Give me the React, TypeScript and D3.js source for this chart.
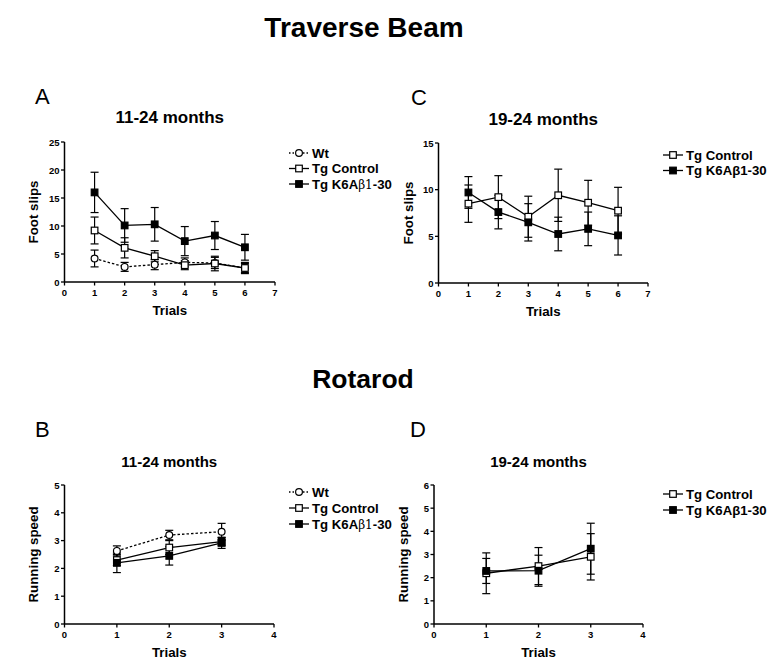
import React from 'react';
import * as d3 from 'd3';

// ---------- data ----------
const trialsBeam = [1, 2, 3, 4, 5, 6];
const trialsRota = [1, 2, 3];

// A: Traverse beam 11-24 months
const beamA_wt = [4.2, 2.7, 3.1, 3.5, 3.4, 2.5];
const beamA_wtErr = [1.5, 0.8, 0.9, 0.8, 1.0, 0.8];
const beamA_ctrl = [9.2, 6.1, 4.6, 3.0, 3.3, 2.5];
const beamA_ctrlErr = [2.4, 1.8, 1.0, 0.8, 1.3, 1.0];
const beamA_k6a = [16.0, 10.1, 10.3, 7.3, 8.3, 6.2];
const beamA_k6aErr = [3.6, 3.0, 3.0, 2.6, 2.5, 2.3];

// C: Traverse beam 19-24 months
const beamC_ctrl = [8.5, 9.2, 7.1, 9.4, 8.6, 7.75];
const beamC_ctrlErr = [2.0, 2.3, 2.2, 2.8, 2.4, 2.5];
const beamC_k6a = [9.7, 7.6, 6.5, 5.25, 5.8, 5.1];
const beamC_k6aErr = [1.7, 1.8, 2.0, 1.8, 1.8, 2.1];

// B: Rotarod 11-24 months
const rotaB_wt = [2.63, 3.2, 3.32];
const rotaB_wtErr = [0.18, 0.17, 0.3];
const rotaB_ctrl = [2.3, 2.75, 2.96];
const rotaB_ctrlErr = [0.2, 0.25, 0.15];
const rotaB_k6a = [2.2, 2.45, 2.92];
const rotaB_k6aErr = [0.35, 0.33, 0.2];

// D: Rotarod 19-24 months
const rotaD_ctrl = [2.19, 2.5, 2.9];
const rotaD_ctrlErr = [0.88, 0.8, 1.0];
const rotaD_k6a = [2.29, 2.3, 3.25];
const rotaD_k6aErr = [0.54, 0.67, 1.1];

const legendNames3 = ['Wt', 'Tg Control', 'Tg K6Aβ1-30'];
const legendNames2 = ['Tg Control', 'Tg K6Aβ1-30'];

const FONT = '"Liberation Sans", Arial, Helvetica, sans-serif';

type Marker = 'circle' | 'open' | 'filled';
type Series = { x: number[]; y: number[]; err: number[]; marker: Marker; dashed?: boolean };

function MarkerShape({ cx, cy, marker }: { cx: number; cy: number; marker: Marker }) {
  if (marker === 'circle') {
    return <circle cx={cx} cy={cy} r={3.4} fill="#fff" stroke="#000" strokeWidth={1.2} />;
  }
  const s = 6.6;
  return (
    <rect
      x={cx - s / 2}
      y={cy - s / 2}
      width={s}
      height={s}
      fill={marker === 'filled' ? '#000' : '#fff'}
      stroke="#000"
      strokeWidth={1.2}
    />
  );
}

type PanelProps = {
  x0: number; x1: number; yTop: number; yBot: number;
  xMax: number; yMax: number; yStep: number;
  series: Series[];
  ylabel: string; ylabelX: number;
  title: string; titleY: number; titleSize: number;
  xlabelY: number;
};

function Panel(p: PanelProps) {
  const x = d3.scaleLinear().domain([0, p.xMax]).range([p.x0, p.x1]);
  const y = d3.scaleLinear().domain([0, p.yMax]).range([p.yBot, p.yTop]);
  const xt = d3.range(0, p.xMax + 1);
  const yt = d3.range(0, p.yMax + 0.001, p.yStep);
  const line = d3
    .line<[number, number]>()
    .x((d) => x(d[0]))
    .y((d) => y(d[1]));
  const cx = (p.x0 + p.x1) / 2;
  const cy = (p.yTop + p.yBot) / 2;
  return (
    <g>
      <text x={cx} y={p.titleY} textAnchor="middle" fontWeight="bold" fontSize={p.titleSize}>
        {p.title}
      </text>
      {/* axes */}
      <line x1={p.x0} x2={p.x0} y1={p.yTop} y2={p.yBot} stroke="#000" strokeWidth={1.5} />
      <line x1={p.x0} x2={p.x1} y1={p.yBot} y2={p.yBot} stroke="#000" strokeWidth={1.5} />
      {yt.map((v) => (
        <g key={'y' + v}>
          <line x1={p.x0 - 3.5} x2={p.x0} y1={y(v)} y2={y(v)} stroke="#000" strokeWidth={1.3} />
          <text x={p.x0 - 5} y={y(v) + 3.5} textAnchor="end" fontSize={9.5} fontWeight="bold">
            {v}
          </text>
        </g>
      ))}
      {xt.map((v) => (
        <g key={'x' + v}>
          <line x1={x(v)} x2={x(v)} y1={p.yBot} y2={p.yBot + 3.5} stroke="#000" strokeWidth={1.3} />
          <text x={x(v)} y={p.yBot + 14} textAnchor="middle" fontSize={9.5} fontWeight="bold">
            {v}
          </text>
        </g>
      ))}
      <text
        transform={`translate(${p.ylabelX},${cy}) rotate(-90)`}
        textAnchor="middle"
        fontSize={13.3}
        fontWeight="bold"
      >
        {p.ylabel}
      </text>
      <text x={cx} y={p.xlabelY} textAnchor="middle" fontSize={13.3} fontWeight="bold">
        Trials
      </text>
      {/* series */}
      {p.series.map((s, i) => {
        const pts = s.x.map((xv, j) => [xv, s.y[j]] as [number, number]);
        return (
          <g key={'s' + i}>
            <path
              d={line(pts) || ''}
              fill="none"
              stroke="#000"
              strokeWidth={1.3}
              strokeDasharray={s.dashed ? '2.5,2' : undefined}
            />
            {pts.map((d, j) => {
              const e = s.err[j];
              const px = x(d[0]);
              return (
                <g key={'e' + j}>
                  <line x1={px} x2={px} y1={y(d[1] - e)} y2={y(d[1] + e)} stroke="#000" strokeWidth={1.2} />
                  <line x1={px - 4} x2={px + 4} y1={y(d[1] + e)} y2={y(d[1] + e)} stroke="#000" strokeWidth={1.2} />
                  <line x1={px - 4} x2={px + 4} y1={y(d[1] - e)} y2={y(d[1] - e)} stroke="#000" strokeWidth={1.2} />
                </g>
              );
            })}
          </g>
        );
      })}
      {p.series.map((s, i) =>
        s.x.map((xv, j) => <MarkerShape key={'m' + i + '-' + j} cx={x(xv)} cy={y(s.y[j])} marker={s.marker} />)
      )}
    </g>
  );
}

function LegendLabel({ name, symbolFont }: { name: string; symbolFont: boolean }) {
  const idx = name.indexOf('β1');
  if (idx < 0 || !symbolFont) return <>{name}</>;
  return (
    <>
      {name.slice(0, idx)}
      <tspan fontFamily='"DejaVu Serif", serif' fontWeight="normal" fontSize={12}>
        β1
      </tspan>
      {name.slice(idx + 2)}
    </>
  );
}

function Legend({
  x0, y0, names, markers, dashed, gap, symbolFont,
}: {
  x0: number; y0: number; names: string[]; markers: Marker[]; dashed: boolean[]; gap: number; symbolFont: boolean;
}) {
  return (
    <g>
      {names.map((n, i) => {
        const yy = y0 + i * gap;
        return (
          <g key={n}>
            <line
              x1={x0}
              x2={x0 + 20}
              y1={yy}
              y2={yy}
              stroke="#000"
              strokeWidth={1.3}
              strokeDasharray={dashed[i] ? '1.5,2' : undefined}
            />
            <MarkerShape cx={x0 + 10} cy={yy} marker={markers[i]} />
            <text x={x0 + 23} y={yy + 4.6} fontSize={13.2} fontWeight="bold">
              <LegendLabel name={n} symbolFont={symbolFont} />
            </text>
          </g>
        );
      })}
    </g>
  );
}

export default function App() {
  const seriesA: Series[] = [
    { x: trialsBeam, y: beamA_wt, err: beamA_wtErr, marker: 'circle', dashed: true },
    { x: trialsBeam, y: beamA_ctrl, err: beamA_ctrlErr, marker: 'open' },
    { x: trialsBeam, y: beamA_k6a, err: beamA_k6aErr, marker: 'filled' },
  ];
  const seriesC: Series[] = [
    { x: trialsBeam, y: beamC_ctrl, err: beamC_ctrlErr, marker: 'open' },
    { x: trialsBeam, y: beamC_k6a, err: beamC_k6aErr, marker: 'filled' },
  ];
  const seriesB: Series[] = [
    { x: trialsRota, y: rotaB_wt, err: rotaB_wtErr, marker: 'circle', dashed: true },
    { x: trialsRota, y: rotaB_ctrl, err: rotaB_ctrlErr, marker: 'open' },
    { x: trialsRota, y: rotaB_k6a, err: rotaB_k6aErr, marker: 'filled' },
  ];
  const seriesD: Series[] = [
    { x: trialsRota, y: rotaD_ctrl, err: rotaD_ctrlErr, marker: 'open' },
    { x: trialsRota, y: rotaD_k6a, err: rotaD_k6aErr, marker: 'filled' },
  ];
  return (
    <svg
      width={775}
      height={671}
      style={{ position: 'absolute', left: 0, top: 0, background: '#fff' }}
      fontFamily={FONT}
    >
      <rect x={0} y={0} width={775} height={671} fill="#fff" />
      <text x={364} y={37} textAnchor="middle" fontWeight="bold" fontSize={28}>
        Traverse Beam
      </text>
      <text x={363} y={388} textAnchor="middle" fontWeight="bold" fontSize={26.5}>
        Rotarod
      </text>
      <text x={35} y={104} fontSize={22}>A</text>
      <text x={411} y={105} fontSize={22}>C</text>
      <text x={35} y={437} fontSize={22}>B</text>
      <text x={410} y={437} fontSize={22}>D</text>

      <Panel
        x0={64.5} x1={275} yTop={142} yBot={282} xMax={7} yMax={25} yStep={5}
        series={seriesA} ylabel="Foot slips" ylabelX={38}
        title="11-24 months" titleY={123} titleSize={17} xlabelY={315}
      />
      <Panel
        x0={438.5} x1={648} yTop={143} yBot={283} xMax={7} yMax={15} yStep={5}
        series={seriesC} ylabel="Foot slips" ylabelX={413}
        title="19-24 months" titleY={125} titleSize={17} xlabelY={316}
      />
      <Panel
        x0={64.5} x1={274} yTop={485} yBot={624} xMax={4} yMax={5} yStep={1}
        series={seriesB} ylabel="Running speed" ylabelX={38}
        title="11-24 months" titleY={467} titleSize={15} xlabelY={657}
      />
      <Panel
        x0={434} x1={643} yTop={485} yBot={624} xMax={4} yMax={6} yStep={1}
        series={seriesD} ylabel="Running speed" ylabelX={408}
        title="19-24 months" titleY={467} titleSize={15} xlabelY={657}
      />

      <Legend x0={289} y0={153} names={legendNames3} markers={['circle', 'open', 'filled']}
        dashed={[true, false, false]} gap={15.5} symbolFont={true} />
      <Legend x0={663} y0={155} names={legendNames2} markers={['open', 'filled']}
        dashed={[false, false]} gap={15.5} symbolFont={false} />
      <Legend x0={289} y0={492} names={legendNames3} markers={['circle', 'open', 'filled']}
        dashed={[true, false, false]} gap={16} symbolFont={true} />
      <Legend x0={663} y0={494} names={legendNames2} markers={['open', 'filled']}
        dashed={[false, false]} gap={16} symbolFont={false} />
    </svg>
  );
}
